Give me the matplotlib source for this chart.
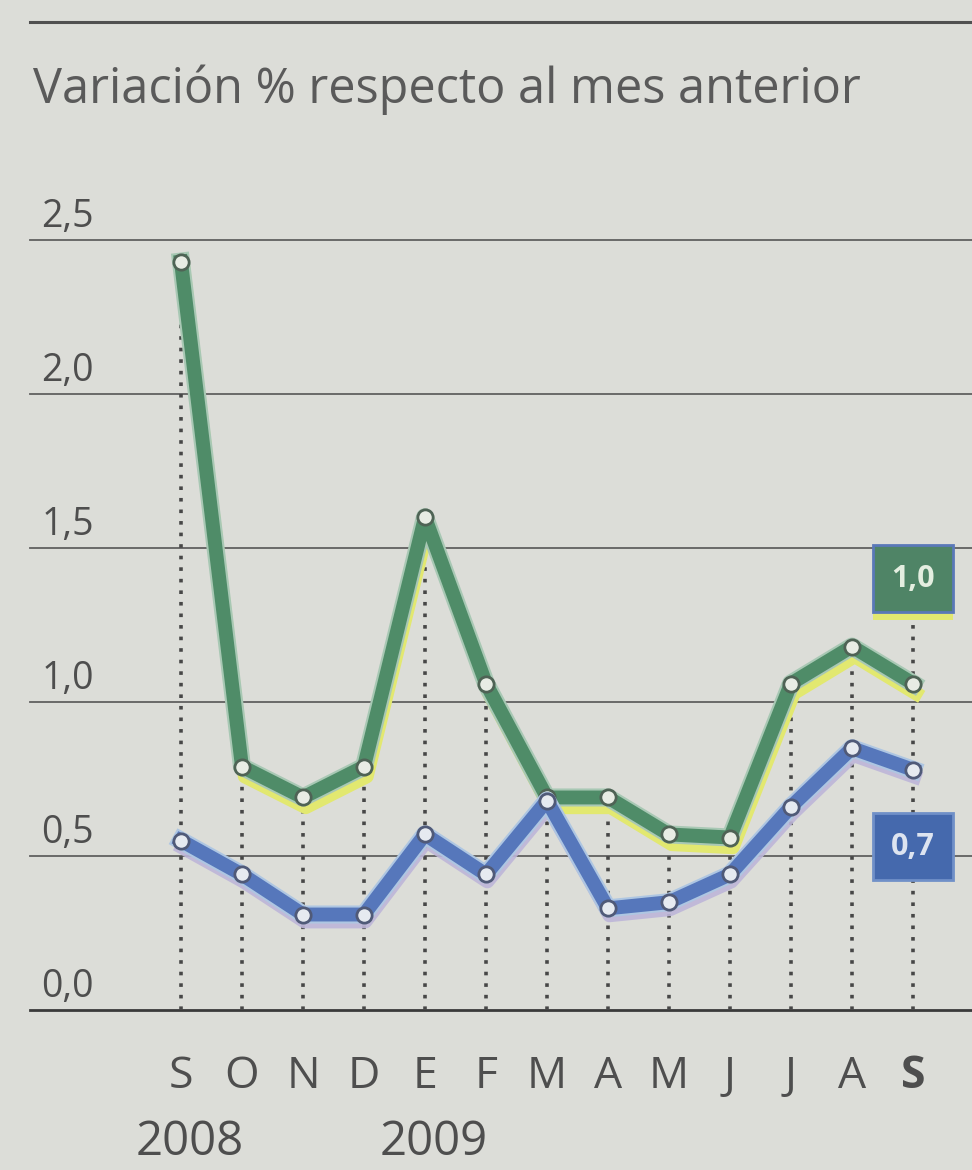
import matplotlib.pyplot as plt
import matplotlib.patheffects as pe

# datos (variacion % mensual)
meses = ['S', 'O', 'N', 'D', 'E', 'F', 'M', 'A', 'M', 'J', 'J', 'A', 'S']
anios = ['2008', '2009']
anios_pos = [0, 4]
serie_verde = [2.43, 0.79, 0.69, 0.79, 1.60, 1.06, 0.69, 0.69, 0.57, 0.56, 1.06, 1.18, 1.06]
serie_azul = [0.55, 0.44, 0.31, 0.31, 0.57, 0.44, 0.68, 0.33, 0.35, 0.44, 0.66, 0.85, 0.78]
yticks = [0.0, 0.5, 1.0, 1.5, 2.0, 2.5]
etiquetas_fin = ['1,0', '0,7']
titulo = 'Variación % respecto al mes anterior'

fondo = '#dcddd8'
gris = '#606060'
verde = '#4f8c68'
azul = '#5677bb'
amarillo = '#e2e870'

plt.rcParams['font.family'] = ['Open Sans', 'DejaVu Sans']

fig = plt.figure(figsize=(9.72, 11.7), dpi=100, facecolor=fondo)
# ejes colocados en pixeles: x 30..972, y 200..1010
ax = fig.add_axes([30 / 972, 160 / 1170, 942 / 972, 810 / 1170])
ax.set_facecolor(fondo)
ax.set_xlim(-2.475, -2.475 + 942 / 61)
ax.set_ylim(0, 810 / 308)
ax.axis('off')

# raya de arriba
fig.add_artist(plt.Line2D([30 / 972, 1], [1 - 22 / 1170, 1 - 22 / 1170],
                          color='#505050', lw=2.2))
fig.text(33 / 972, 1 - 90 / 1170, titulo, fontsize=35, color='#5a5a5a',
         va='center', ha='left')

# rejilla horizontal y etiquetas
for v in yticks:
    ax.axhline(v, color='#3a3a3a' if v == 0 else gris, lw=2.0 if v == 0 else 1.3,
               clip_on=False, zorder=1)
    ax.annotate(f'{v:.1f}'.replace('.', ','), xy=(0.012, v),
                xycoords=ax.get_yaxis_transform(), xytext=(0, 3),
                textcoords='offset points', va='bottom', ha='left',
                fontsize=27, color='#4e4e4e')

# lineas punteadas verticales
x = list(range(len(meses)))
for i in x:
    top = max(serie_verde[i], serie_azul[i])
    if i == len(meses) - 1:
        top = 1.28
    ax.plot([i, i], [0, top], color='#474747', lw=2.6,
            linestyle=(0, (1, 2.2)), zorder=2)

sombra_v = [pe.SimpleLineShadow(offset=(2, -7), shadow_color=amarillo, alpha=1.0),
            pe.Stroke(linewidth=13, foreground='#a8c8b4'), pe.Normal()]
ax.plot(x, serie_verde, color=verde, lw=10, solid_joinstyle='round',
        path_effects=sombra_v, zorder=3)
ax.plot(x, serie_verde, 'o', ms=11, mfc='#e8ece4', mec='#4f6355', mew=2, zorder=4)

sombra_a = [pe.SimpleLineShadow(offset=(1, -5), shadow_color='#bdb6d8', alpha=0.9),
            pe.Stroke(linewidth=13, foreground='#aec6e2'), pe.Normal()]
ax.plot(x, serie_azul, color=azul, lw=10, solid_joinstyle='round',
        path_effects=sombra_a, zorder=5)
ax.plot(x, serie_azul, 'o', ms=11, mfc='#e6eaf0', mec='#505a78', mew=2, zorder=6)

# cajas con el ultimo dato
ultimo = len(meses) - 1
ax.annotate(etiquetas_fin[0], xy=(ultimo, 1.40), xytext=(0, -6),
            textcoords='offset points', ha='center', va='center', fontsize=22,
            color=amarillo, alpha=0.0,
            bbox=dict(boxstyle='square,pad=0.6', fc=amarillo, ec='none'), zorder=7)
ax.text(ultimo, 1.40, etiquetas_fin[0], ha='center', va='center', fontsize=22,
        fontweight='bold', color='#e4eee0',
        bbox=dict(boxstyle='square,pad=0.6', fc='#4f8466', ec='#5a78b8', lw=2), zorder=8)
ax.text(ultimo, 0.53, etiquetas_fin[1], ha='center', va='center', fontsize=22,
        fontweight='bold', color='#dde4f0',
        bbox=dict(boxstyle='square,pad=0.6', fc='#4569ad', ec='#7090c8', lw=2), zorder=8)

# meses y anios
for i, m in enumerate(meses):
    ax.annotate(m, xy=(i, 0), xycoords='data', xytext=(0, -48),
                textcoords='offset points', ha='center', va='center',
                fontsize=32, color='#4e4e4e',
                fontweight='bold' if i == ultimo else 'normal')
for p, a in zip(anios_pos, anios):
    ax.annotate(a, xy=(p, 0), xycoords='data', xytext=(6, -95),
                textcoords='offset points', ha='center', va='center',
                fontsize=34, color='#4e4e4e')

fig.savefig('out.png', dpi=100, facecolor=fondo)
